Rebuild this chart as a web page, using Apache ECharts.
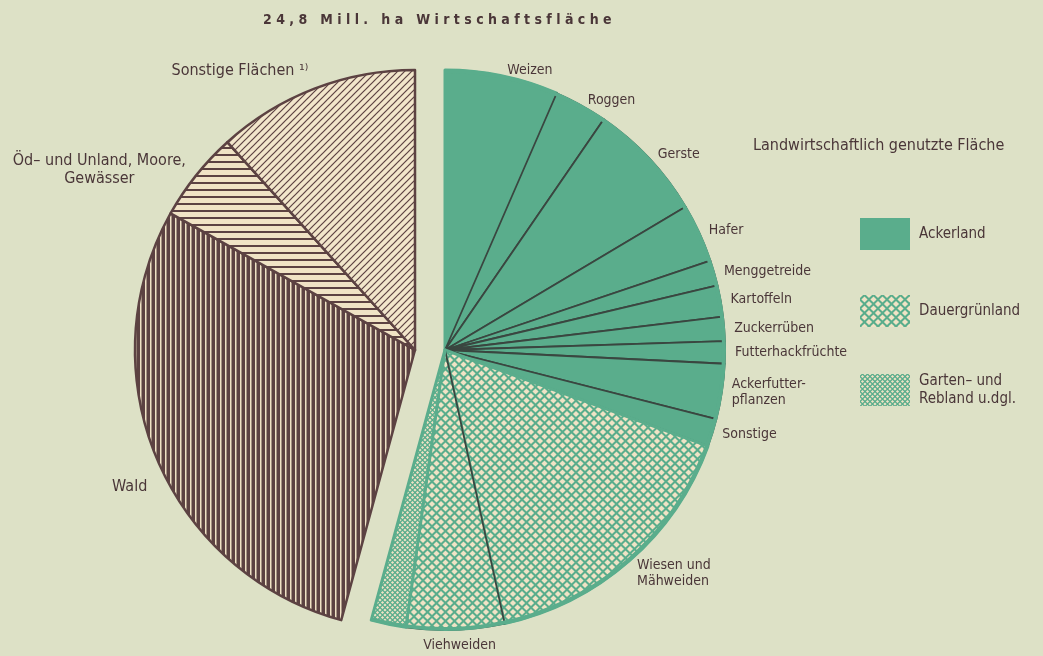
<!DOCTYPE html>
<html>
<head>
<meta charset="utf-8">
<title>Wirtschaftsfläche</title>
<script src="https://cdn.jsdelivr.net/npm/echarts@6/dist/echarts.min.js"></script>
<style>
  html, body { margin: 0; padding: 0; background: #dde1c6; }
  #chart { width: 1043px; height: 656px; }
</style>
</head>
<body>
<div id="chart"></div>
<script>
// Flächen in 1000 ha
const agrarNamen = ['Weizen', 'Roggen', 'Gerste', 'Hafer', 'Menggetreide', 'Kartoffeln', 'Zuckerrüben',
  'Futterhackfrüchte', 'Ackerfutter-\npflanzen', 'Sonstige', 'Wiesen und\nMähweiden', 'Viehweiden',
  'Garten– und\nRebland u.dgl.'];
const agrarWerte = [1620, 760, 1700, 840, 360, 450, 345, 320, 790, 400, 3970, 1400, 500];
const agrarGruppe = ['acker', 'acker', 'acker', 'acker', 'acker', 'acker', 'acker',
  'acker', 'acker', 'acker', 'gruen', 'gruen', 'garten'];

const restNamen = ['Wald', 'Öd– und Unland, Moore,\nGewässer', 'Sonstige Flächen ¹⁾'];
const restWerte = [7160, 1290, 2900];

const legendeNamen = ['Ackerland', 'Dauergrünland', 'Garten– und\nRebland u.dgl.'];
const legendeGruppe = ['acker', 'gruen', 'garten'];

const titel = '24,8 Mill. ha Wirtschaftsfläche';

const FONT = "'Liberation Sans Narrow', 'DejaVu Sans Condensed', Roboto, sans-serif";
const TEXT = '#4a3638';
const TEAL = '#5aad8c';
const DUNKEL = '#3a4640';
const BRAUN = '#5c4242';
const CREME = '#f0e3c5';

function muster(w, h, zeichne) {
  const c = document.createElement('canvas');
  c.width = w;
  c.height = h;
  zeichne(c.getContext('2d'), w, h);
  return {image: c, repeat: 'repeat'};
}

// Rautenraster: creme Rauten auf Teal
function rauten(abstand, a) {
  return muster(abstand, abstand, (ctx, w, h) => {
    ctx.fillStyle = TEAL;
    ctx.fillRect(0, 0, w, h);
    ctx.fillStyle = CREME;
    [[0, 0], [w, 0], [0, h], [w, h], [w / 2, h / 2]].forEach(([x, y]) => {
      ctx.beginPath();
      ctx.moveTo(x - a, y);
      ctx.lineTo(x, y - a);
      ctx.lineTo(x + a, y);
      ctx.lineTo(x, y + a);
      ctx.closePath();
      ctx.fill();
    });
  });
}

const fuellung = {
  acker: TEAL,
  gruen: rauten(9, 3.1),
  garten: rauten(5, 1.6),
  wald: muster(5, 4, (ctx, w, h) => {
    ctx.fillStyle = BRAUN;
    ctx.fillRect(0, 0, w, h);
    ctx.fillStyle = CREME;
    ctx.fillRect(0, 0, 1.5, h);
  }),
  oed: muster(4, 7, (ctx, w, h) => {
    ctx.fillStyle = CREME;
    ctx.fillRect(0, 0, w, h);
    ctx.fillStyle = BRAUN;
    ctx.fillRect(0, 0, w, 2);
  }),
  sonst: muster(7, 7, (ctx, w, h) => {
    ctx.fillStyle = '#f2e6cb';
    ctx.fillRect(0, 0, w, h);
    ctx.strokeStyle = BRAUN;
    ctx.lineWidth = 1.2;
    [[0, h, w, 0], [-1, 1, 1, -1], [w - 1, h + 1, w + 1, h - 1]].forEach(([a, b, c, d]) => {
      ctx.beginPath();
      ctx.moveTo(a, b);
      ctx.lineTo(c, d);
      ctx.stroke();
    });
  })
};

const summe = arr => arr.reduce((a, b) => a + b, 0);
const agrarSumme = summe(agrarWerte);
const restSumme = summe(restWerte);

const platzhalter = value => ({
  value: value,
  name: '',
  itemStyle: {color: 'transparent', borderWidth: 0},
  label: {show: false}
});

// Randfarben so, dass nur die Linien innerhalb des Ackerlands dunkel sind
const agrarDaten = agrarNamen.map((name, i) => {
  const gruppe = agrarGruppe[i];
  let rand = {borderColor: DUNKEL, borderWidth: 1.8};
  if (i === 0 || gruppe === 'garten' || name.startsWith('Wiesen')) {
    rand = {borderColor: TEAL, borderWidth: 3};
  }
  return {
    value: agrarWerte[i],
    name: name,
    itemStyle: Object.assign({color: fuellung[gruppe]}, rand),
    label: {show: gruppe !== 'garten'}
  };
});
agrarDaten.push(platzhalter(restSumme));

const restFuellung = [fuellung.wald, fuellung.oed, fuellung.sonst];
const restDaten = [platzhalter(agrarSumme)].concat(restNamen.map((name, i) => ({
  value: restWerte[i],
  name: name,
  itemStyle: {color: restFuellung[i], borderColor: BRAUN, borderWidth: 2.5}
})));

const legendeDaten = legendeNamen.map((name, i) => ({
  value: 0,
  name: name,
  itemStyle: {color: fuellung[legendeGruppe[i]], borderWidth: 0}
}));

const chart = echarts.init(document.getElementById('chart'));

const option = {
  backgroundColor: '#dde1c6',
  animation: false,
  textStyle: {fontFamily: FONT, color: TEXT},
  title: [
    {
      text: titel.split('').join(' '),
      left: 258,
      top: 8,
      textStyle: {fontFamily: FONT, fontSize: 14, fontWeight: 'bold', color: TEXT}
    },
    {
      text: 'Landwirtschaftlich genutzte Fläche',
      left: 748,
      top: 133,
      textStyle: {fontFamily: FONT, fontSize: 16, fontWeight: 'normal', color: TEXT}
    }
  ],
  legend: {
    data: legendeNamen,
    orient: 'vertical',
    left: 860,
    top: 218,
    padding: 0,
    itemWidth: 50,
    itemHeight: 32,
    itemGap: 45,
    icon: 'rect',
    selectedMode: false,
    itemStyle: {borderWidth: 0},
    textStyle: {fontFamily: FONT, fontSize: 15, color: TEXT, lineHeight: 18, padding: [0, 0, 0, 4]}
  },
  series: [
    {
      name: 'Landwirtschaftlich genutzte Fläche',
      type: 'pie',
      center: [445, 350],
      radius: 280,
      startAngle: 90,
      avoidLabelOverlap: false,
      emphasis: {disabled: true},
      label: {
        position: 'outside',
        fontFamily: FONT,
        fontSize: 14,
        lineHeight: 16,
        color: TEXT,
        distanceToLabelLine: 4
      },
      labelLine: {show: false, length: 6, length2: 0},
      labelLayout: p => {
        if (p.dataIndex === 10) return {dy: 8};
        if (p.dataIndex === 11) return {align: 'center', dy: 10};
        return {};
      },
      data: agrarDaten
    },
    {
      name: 'Rand',
      type: 'pie',
      silent: true,
      center: [445, 350],
      radius: [277, 281],
      startAngle: 90,
      emphasis: {disabled: true},
      label: {show: false},
      labelLine: {show: false},
      data: [
        {value: agrarSumme, name: 'rand', itemStyle: {color: TEAL, borderWidth: 0}},
        platzhalter(restSumme)
      ]
    },
    {
      name: 'Übrige Flächen',
      type: 'pie',
      center: [415, 350],
      radius: 280,
      startAngle: 90,
      avoidLabelOverlap: false,
      emphasis: {disabled: true},
      label: {
        position: 'outside',
        fontFamily: FONT,
        fontSize: 16,
        lineHeight: 18,
        color: TEXT,
        distanceToLabelLine: 4
      },
      labelLine: {show: false, length: 6, length2: 0},
      labelLayout: p => {
        if (p.dataIndex === 1) return {dy: 26};
        if (p.dataIndex === 2) return {align: 'center', dx: -88, dy: -2};
        if (p.dataIndex === 3) return {dy: -12};
        return {};
      },
      data: restDaten
    },
    {
      name: 'Legende',
      type: 'pie',
      silent: true,
      center: [950, 600],
      radius: 0,
      label: {show: false},
      labelLine: {show: false},
      data: legendeDaten
    }
  ]
};

chart.setOption(option);

window.addEventListener('resize', () => {
  chart.resize();
});
</script>
</body>
</html>
